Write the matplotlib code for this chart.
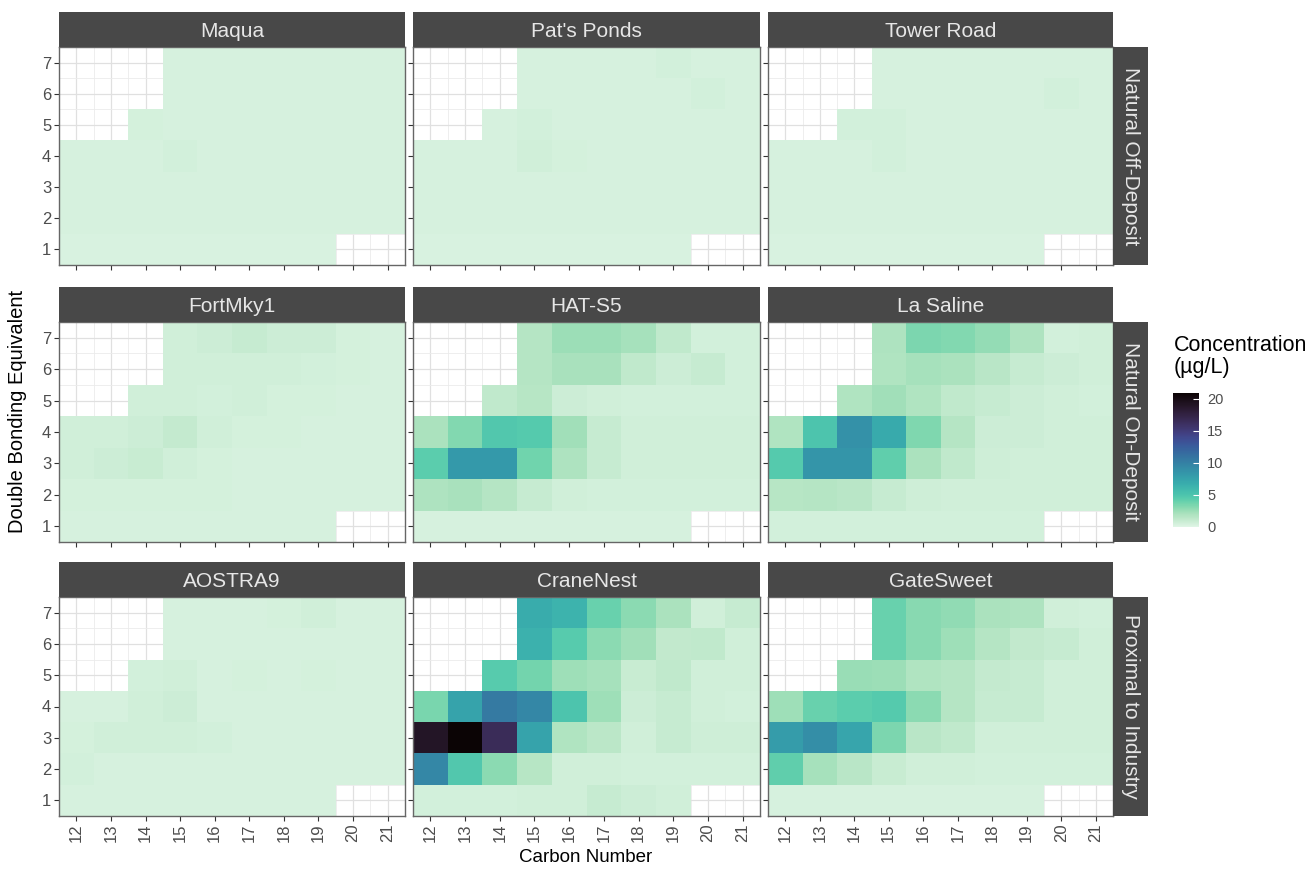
import numpy as np
import matplotlib
matplotlib.use("Agg")
import matplotlib.pyplot as plt
import seaborn as sns

plt.rcParams['font.family'] = ['Liberation Sans', 'DejaVu Sans']

nan = np.nan
carbon = list(range(12, 22))
dbe = list(range(1, 8))

row_groups = ["Natural Off-Deposit", "Natural On-Deposit", "Proximal to Industry"]
sites = [["Maqua", "Pat's Ponds", "Tower Road"],
         ["FortMky1", "HAT-S5", "La Saline"],
         ["AOSTRA9", "CraneNest", "GateSweet"]]

# rows = DBE 1..7, columns = C12..C21 (ug/L)
maqua = [
    [0.3, 0.3, 0.3, 0.3, 0.3, 0.3, 0.3, 0.3, nan, nan],
    [0.35, 0.35, 0.35, 0.35, 0.35, 0.35, 0.35, 0.35, 0.35, 0.35],
    [0.35, 0.35, 0.35, 0.35, 0.35, 0.35, 0.35, 0.35, 0.35, 0.35],
    [0.4, 0.4, 0.4, 0.55, 0.4, 0.35, 0.35, 0.35, 0.35, 0.35],
    [nan, nan, 0.45, 0.4, 0.35, 0.35, 0.35, 0.35, 0.35, 0.35],
    [nan, nan, nan, 0.4, 0.35, 0.35, 0.35, 0.35, 0.35, 0.35],
    [nan, nan, nan, 0.35, 0.35, 0.35, 0.35, 0.35, 0.35, 0.35],
]
pats_ponds = [
    [0.3, 0.3, 0.3, 0.3, 0.3, 0.3, 0.3, 0.3, nan, nan],
    [0.35, 0.35, 0.35, 0.35, 0.35, 0.35, 0.35, 0.35, 0.35, 0.35],
    [0.35, 0.35, 0.35, 0.4, 0.4, 0.35, 0.35, 0.35, 0.35, 0.35],
    [0.35, 0.35, 0.4, 0.6, 0.45, 0.4, 0.35, 0.35, 0.35, 0.35],
    [nan, nan, 0.4, 0.55, 0.4, 0.4, 0.35, 0.35, 0.35, 0.35],
    [nan, nan, nan, 0.4, 0.4, 0.35, 0.35, 0.35, 0.55, 0.35],
    [nan, nan, nan, 0.35, 0.35, 0.35, 0.4, 0.5, 0.4, 0.35],
]
tower_road = [
    [0.3, 0.3, 0.3, 0.3, 0.3, 0.3, 0.3, 0.3, nan, nan],
    [0.35, 0.35, 0.35, 0.35, 0.35, 0.35, 0.35, 0.35, 0.35, 0.35],
    [0.35, 0.35, 0.35, 0.35, 0.35, 0.35, 0.35, 0.35, 0.35, 0.35],
    [0.35, 0.35, 0.4, 0.5, 0.4, 0.35, 0.35, 0.35, 0.35, 0.35],
    [nan, nan, 0.5, 0.5, 0.4, 0.35, 0.35, 0.35, 0.35, 0.35],
    [nan, nan, nan, 0.4, 0.35, 0.35, 0.35, 0.35, 0.5, 0.35],
    [nan, nan, nan, 0.35, 0.35, 0.35, 0.35, 0.35, 0.35, 0.35],
]
fortmky1 = [
    [0.35, 0.35, 0.35, 0.35, 0.35, 0.35, 0.35, 0.35, nan, nan],
    [0.45, 0.45, 0.45, 0.45, 0.45, 0.4, 0.4, 0.4, 0.4, 0.4],
    [0.6, 0.8, 0.9, 0.65, 0.45, 0.4, 0.4, 0.4, 0.4, 0.4],
    [0.6, 0.6, 0.75, 1.1, 0.65, 0.45, 0.45, 0.4, 0.4, 0.4],
    [nan, nan, 0.65, 0.6, 0.55, 0.6, 0.45, 0.45, 0.4, 0.4],
    [nan, nan, nan, 0.65, 0.65, 0.65, 0.65, 0.55, 0.45, 0.4],
    [nan, nan, nan, 0.6, 0.8, 1.0, 0.8, 0.8, 0.45, 0.4],
]
hat_s5 = [
    [0.4, 0.4, 0.4, 0.4, 0.4, 0.4, 0.4, 0.4, nan, nan],
    [1.9, 2.1, 1.7, 1.0, 0.6, 0.5, 0.5, 0.5, 0.5, 0.5],
    [4.4, 8.2, 8.2, 3.7, 1.9, 1.0, 0.6, 0.6, 0.6, 0.6],
    [2.0, 3.2, 4.8, 4.6, 2.3, 1.0, 0.6, 0.6, 0.6, 0.6],
    [nan, nan, 1.3, 1.6, 0.8, 0.6, 0.5, 0.5, 0.5, 0.5],
    [nan, nan, nan, 1.7, 2.1, 2.1, 1.3, 0.8, 1.0, 0.5],
    [nan, nan, nan, 1.7, 2.5, 2.5, 2.2, 1.3, 0.5, 0.5],
]
la_saline = [
    [0.5, 0.5, 0.5, 0.5, 0.5, 0.5, 0.5, 0.5, nan, nan],
    [1.6, 1.7, 1.5, 1.0, 0.7, 0.6, 0.6, 0.6, 0.6, 0.6],
    [4.6, 8.5, 8.5, 4.2, 2.0, 1.3, 0.7, 0.6, 0.6, 0.6],
    [1.8, 5.0, 8.8, 7.0, 3.3, 1.7, 0.8, 0.8, 0.6, 0.6],
    [nan, nan, 1.8, 2.3, 1.8, 1.3, 1.0, 0.8, 0.6, 0.5],
    [nan, nan, nan, 1.8, 2.2, 2.0, 1.5, 1.0, 0.8, 0.6],
    [nan, nan, nan, 1.9, 3.4, 3.2, 2.7, 1.9, 0.5, 0.6],
]
aostra9 = [
    [0.35, 0.35, 0.35, 0.35, 0.35, 0.35, 0.35, 0.35, nan, nan],
    [0.55, 0.4, 0.4, 0.4, 0.35, 0.35, 0.35, 0.35, 0.35, 0.35],
    [0.45, 0.6, 0.6, 0.6, 0.55, 0.35, 0.35, 0.35, 0.35, 0.35],
    [0.4, 0.4, 0.65, 0.75, 0.4, 0.4, 0.35, 0.35, 0.35, 0.35],
    [nan, nan, 0.55, 0.65, 0.4, 0.45, 0.4, 0.45, 0.4, 0.35],
    [nan, nan, nan, 0.4, 0.4, 0.4, 0.4, 0.4, 0.4, 0.35],
    [nan, nan, nan, 0.4, 0.4, 0.4, 0.45, 0.6, 0.4, 0.35],
]
cranenest = [
    [0.5, 0.5, 0.5, 0.6, 0.6, 1.0, 0.8, 0.6, nan, nan],
    [9.5, 4.8, 3.0, 1.6, 0.6, 0.6, 0.5, 0.5, 0.5, 0.5],
    [19.0, 20.9, 16.5, 7.5, 1.8, 1.4, 0.6, 1.0, 0.7, 0.7],
    [3.5, 7.5, 10.5, 9.5, 5.0, 2.4, 0.8, 1.0, 0.6, 0.5],
    [nan, nan, 4.5, 3.6, 2.4, 2.2, 0.9, 1.3, 0.6, 0.6],
    [nan, nan, nan, 6.5, 4.5, 3.0, 2.3, 1.2, 1.3, 0.6],
    [nan, nan, nan, 6.8, 6.3, 4.0, 3.0, 2.0, 0.6, 1.0],
]
gatesweet = [
    [0.4, 0.4, 0.4, 0.4, 0.4, 0.4, 0.4, 0.4, nan, nan],
    [4.2, 2.2, 1.5, 0.9, 0.6, 0.6, 0.5, 0.5, 0.5, 0.5],
    [8.0, 9.0, 7.3, 3.4, 1.5, 1.3, 0.6, 0.6, 0.6, 0.6],
    [2.4, 4.0, 4.4, 4.6, 3.0, 1.7, 1.0, 1.0, 0.6, 0.6],
    [nan, nan, 2.6, 2.5, 1.8, 1.7, 1.1, 1.0, 0.6, 0.6],
    [nan, nan, nan, 4.0, 3.1, 2.4, 1.7, 1.2, 1.0, 0.6],
    [nan, nan, nan, 4.0, 3.1, 2.8, 2.0, 1.9, 0.6, 0.5],
]

values = {
    "Maqua": maqua, "Pat's Ponds": pats_ponds, "Tower Road": tower_road,
    "FortMky1": fortmky1, "HAT-S5": hat_s5, "La Saline": la_saline,
    "AOSTRA9": aostra9, "CraneNest": cranenest, "GateSweet": gatesweet,
}
cbar_ticks = [0, 5, 10, 15, 20]

W, H = 1307, 869
fig = plt.figure(figsize=(W / 100, H / 100), dpi=100)


def box(l, t, r, b):
    return [l / W, 1 - b / H, (r - l) / W, (b - t) / H]


col_px = [(59, 405), (413, 760), (768, 1113)]
row_px = [(47, 265), (322, 542), (597, 816)]
strip_h = 35
strip_col = "#484848"
strip_txt = "#e6e6e6"

cmap = sns.color_palette("mako_r", as_cmap=True)
vmax = 20.9
xe = np.arange(11.5, 22, 1)
ye = np.arange(0.5, 8, 1)

mesh = None
for i in range(3):
    t, b = row_px[i]
    for j in range(3):
        l, r = col_px[j]
        ax = fig.add_axes(box(l, t, r, b))
        z = np.ma.masked_invalid(np.array(values[sites[i][j]], dtype=float))
        ax.set_axisbelow(True)
        mesh = ax.pcolormesh(xe, ye, z, cmap=cmap, vmin=0, vmax=vmax, zorder=2)
        ax.set_xlim(11.5, 21.5)
        ax.set_ylim(0.5, 7.5)
        ax.set_xticks(carbon)
        ax.set_yticks(dbe)
        ax.set_xticks(np.arange(11.5, 22, 1), minor=True)
        ax.set_yticks(np.arange(0.5, 8, 1), minor=True)
        ax.grid(which="major", color="#e0e0e0", lw=0.9, zorder=0)
        ax.grid(which="minor", color="#ebebeb", lw=0.6, zorder=0)
        ax.tick_params(which="minor", length=0)
        ax.tick_params(which="major", length=3.5, width=0.8, color="#333333",
                       labelcolor="#4d4d4d", labelsize=12, pad=2)
        for s in ax.spines.values():
            s.set_color("#666666")
            s.set_linewidth(1.0)
        if j == 0:
            ax.set_yticklabels([str(v) for v in dbe])
        else:
            ax.set_yticklabels([])
        if i == 2:
            ax.set_xticklabels([str(v) for v in carbon], rotation=90)
        else:
            ax.set_xticklabels([])

        sax = fig.add_axes(box(l, t - strip_h, r, t))
        sax.set_facecolor(strip_col)
        sax.set_xticks([])
        sax.set_yticks([])
        for s in sax.spines.values():
            s.set_visible(False)
        sax.text(0.5, 0.45, sites[i][j], ha="center", va="center",
                 color=strip_txt, fontsize=15, transform=sax.transAxes)

    rax = fig.add_axes(box(1113, t, 1148, b))
    rax.set_facecolor(strip_col)
    rax.set_xticks([])
    rax.set_yticks([])
    for s in rax.spines.values():
        s.set_visible(False)
    rax.text(0.5, 0.5, row_groups[i], ha="center", va="center", rotation=270,
             color=strip_txt, fontsize=15, transform=rax.transAxes)

fig.text(18 / W, 1 - 411 / H, "Double Bonding Equivalent", rotation=90,
         ha="center", va="center", fontsize=14.5, color="black")
fig.text(586 / W, 1 - 858 / H, "Carbon Number", ha="center", va="center",
         fontsize=13.5, color="black")

cax = fig.add_axes(box(1173, 393, 1199, 527))
cb = fig.colorbar(mesh, cax=cax, ticks=cbar_ticks)
cb.outline.set_visible(False)
cax.tick_params(length=4, width=0.8, color="white", direction="in",
                labelsize=10.5, labelcolor="#4d4d4d", pad=6)
fig.text(1174 / W, 1 - 335 / H, "Concentration\n(\u00b5g/L)", ha="left", va="top",
         fontsize=15.5, color="black", linespacing=1.05)

fig.savefig("out.png", dpi=100)
